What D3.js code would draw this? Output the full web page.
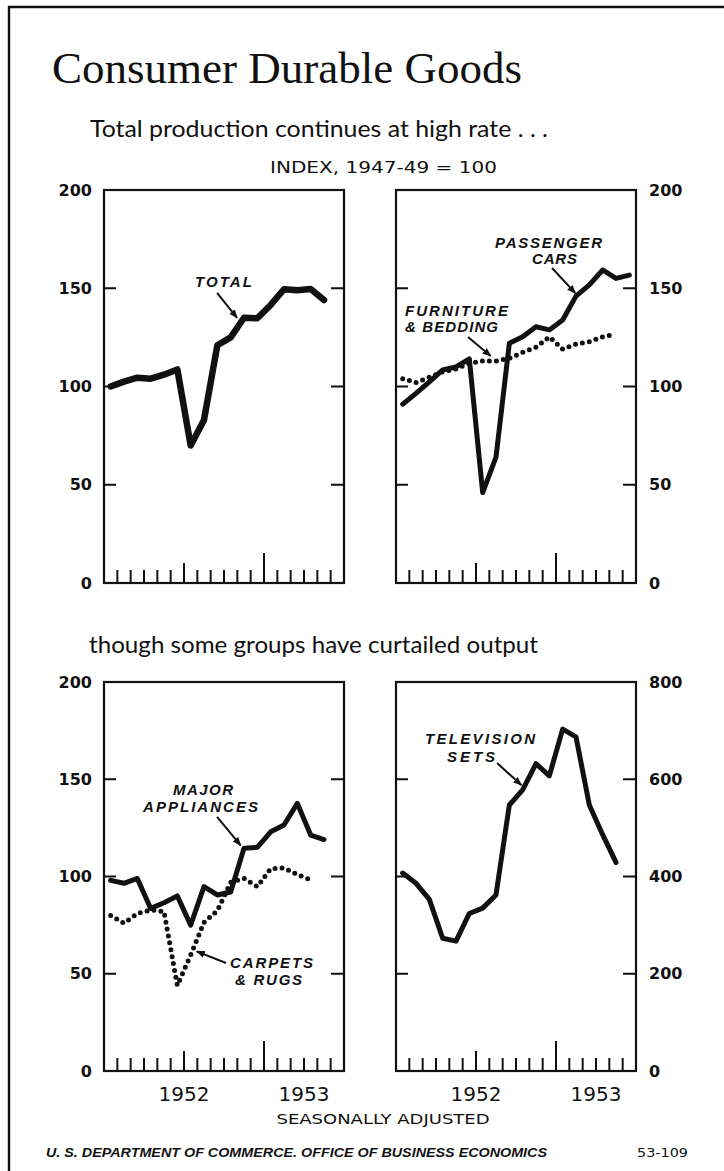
<!DOCTYPE html>
<html><head><meta charset="utf-8">
<script src="https://cdn.jsdelivr.net/npm/d3@7"></script>
<style>html,body{margin:0;padding:0;background:#fff}</style>
</head><body>
<svg id="c" width="724" height="1171"></svg>
<script>
// ---------- DATA ----------
const months = ["1952-01","1952-02","1952-03","1952-04","1952-05","1952-06","1952-07","1952-08","1952-09","1952-10","1952-11","1952-12",
                "1953-01","1953-02","1953-03","1953-04","1953-05","1953-06"];
const yearLabels = ["1952", "1953"];
const indexTicks = [0, 50, 100, 150, 200];
const tvTicks = [0, 200, 400, 600, 800];

const total      = [100, 102.5, 104.5, 104, 106, 108.7, 70, 83, 121, 125, 135, 134.7, 141.5, 149.5, 149, 149.6, 144];
const cars       = [91, 96.5, 102.4, 108.4, 110, 114, 46, 64, 122, 125.3, 130.4, 128.8, 133.8, 146, 151.7, 159.3, 155, 156.7];
const furniture  = [104, 102, 104.7, 107.5, 109, 111.8, 113, 113, 114.3, 117.4, 120, 125.3, 119, 121.6, 122.8, 125.3, 126.7];
const appliances = [98, 96.5, 99, 83.6, 86.5, 90, 75, 94.8, 90.5, 92, 114.5, 115, 123, 126.5, 137.6, 121.3, 119];
const carpets    = [80, 76, 81, 82.8, 82, 44, 59.6, 76.4, 82.4, 97, 99, 94.8, 104, 104.4, 101, 98.2];
const tvSets     = [407, 386, 353, 273, 267, 324, 335, 362, 547, 578, 632, 607, 703, 687, 547, 486, 429];

// ---------- DRAW ----------
const svg = d3.select("#c");
const SANS = "'DejaVu Sans', sans-serif";
const ITAL = "'Liberation Sans', Arial, sans-serif";

// outer frame (left + top)
svg.append("path").attr("d", "M9,1171 L9,7 L724,7").attr("fill", "none").attr("stroke", "#111").attr("stroke-width", 2.4);

// headings
svg.append("text").attr("x", 52).attr("y", 83).text("Consumer Durable Goods")
  .attr("font-family", "'Liberation Serif', 'DejaVu Serif', serif").attr("font-size", 45)
  .attr("textLength", 470).attr("lengthAdjust", "spacingAndGlyphs").attr("fill", "#111");
svg.append("text").attr("x", 90).attr("y", 137).text("Total production continues at high rate . . .")
  .attr("font-family", "Lato, 'Open Sans', sans-serif").attr("font-size", 24)
  .attr("textLength", 458).attr("lengthAdjust", "spacingAndGlyphs").attr("fill", "#111");
svg.append("text").attr("x", 270).attr("y", 173).text("INDEX, 1947-49 = 100")
  .attr("font-family", SANS).attr("font-size", 15)
  .attr("textLength", 227).attr("lengthAdjust", "spacingAndGlyphs").attr("fill", "#111");
svg.append("text").attr("x", 89).attr("y", 653).text("though some groups have curtailed output")
  .attr("font-family", "Lato, 'Open Sans', sans-serif").attr("font-size", 24)
  .attr("textLength", 449).attr("lengthAdjust", "spacingAndGlyphs").attr("fill", "#111");
svg.append("text").attr("x", 383).attr("y", 1124).attr("text-anchor", "middle").text("SEASONALLY ADJUSTED")
  .attr("font-family", SANS).attr("font-size", 14)
  .attr("textLength", 213).attr("lengthAdjust", "spacingAndGlyphs").attr("fill", "#111");
svg.append("text").attr("x", 46).attr("y", 1157).text("U. S. DEPARTMENT OF COMMERCE. OFFICE OF BUSINESS ECONOMICS")
  .attr("font-family", ITAL).attr("font-weight", "bold").attr("font-style", "italic").attr("font-size", 12)
  .attr("textLength", 501).attr("lengthAdjust", "spacingAndGlyphs").attr("fill", "#111");
svg.append("text").attr("x", 637).attr("y", 1157).text("53-109")
  .attr("font-family", SANS).attr("font-size", 12)
  .attr("textLength", 51).attr("lengthAdjust", "spacingAndGlyphs").attr("fill", "#111");

const panels = [
  { x0: 104, x1: 344, yTop: 190, yBot: 583, max: 200, ticks: indexTicks, side: "left", years: false,
    series: [{ v: total, w: 6.5, dotted: false }],
    notes: [
      { lines: [{ t: "TOTAL", m: 8.96, v: 150.6, len: 57, anchor: "middle" }], arrow: [8.48, 147.6, 9.98, 134.9] }
    ] },
  { x0: 396, x1: 636, yTop: 190, yBot: 583, max: 200, ticks: indexTicks, side: "right", years: false,
    series: [{ v: furniture, w: 5, dotted: true }, { v: cars, w: 5, dotted: false }],
    notes: [
      { lines: [{ t: "PASSENGER", m: 11.44, v: 170.5, len: 107, anchor: "middle" },
                { t: "CARS", m: 11.89, v: 162.3, len: 45, anchor: "middle" }], arrow: [11.7, 160.3, 13.45, 147.5] },
      { lines: [{ t: "FURNITURE", m: 0.675, v: 135.9, len: 103, anchor: "start" },
                { t: "& BEDDING", m: 0.675, v: 127.7, len: 93, anchor: "start" }], arrow: [5.4, 125.2, 7.1, 115.5] }
    ] },
  { x0: 104, x1: 344, yTop: 682, yBot: 1071, max: 200, ticks: indexTicks, side: "left", years: true,
    series: [{ v: carpets, w: 5, dotted: true }, { v: appliances, w: 5, dotted: false }],
    notes: [
      { lines: [{ t: "MAJOR", m: 7.43, v: 141.9, len: 60, anchor: "middle" },
                { t: "APPLIANCES", m: 7.24, v: 133.2, len: 115, anchor: "middle" }], arrow: [8.48, 130.6, 10.25, 116] },
      { lines: [{ t: "CARPETS", m: 9.45, v: 53, len: 83, anchor: "start" },
                { t: "& RUGS", m: 9.83, v: 44.2, len: 67, anchor: "start" }], arrow: [9.15, 55.5, 6.95, 61.5] }
    ] },
  { x0: 396, x1: 636, yTop: 682, yBot: 1071, max: 800, ticks: tvTicks, side: "right", years: true,
    series: [{ v: tvSets, w: 5, dotted: false }],
    notes: [
      { lines: [{ t: "TELEVISION", m: 6.3, v: 672.5, len: 110, anchor: "middle" },
                { t: "SETS", m: 5.63, v: 635.5, len: 48, anchor: "middle" }], arrow: [7.58, 633.4, 9.4, 588] }
    ] }
];

const defs = svg.append("defs");
defs.append("marker").attr("id", "ah").attr("viewBox", "0 0 10 10").attr("refX", 9).attr("refY", 5)
  .attr("markerWidth", 9).attr("markerHeight", 9).attr("markerUnits", "userSpaceOnUse").attr("orient", "auto")
  .append("path").attr("d", "M0,1 L10,5 L0,9 Z").attr("fill", "#111");

panels.forEach(p => {
  const x = d3.scaleLinear().domain([0, months.length]).range([p.x0, p.x1]);
  const y = d3.scaleLinear().domain([0, p.max]).range([p.yBot, p.yTop]);
  const g = svg.append("g");

  // frame
  g.append("rect").attr("x", p.x0).attr("y", p.yTop).attr("width", p.x1 - p.x0).attr("height", p.yBot - p.yTop)
    .attr("fill", "none").attr("stroke", "#111").attr("stroke-width", 2.2);

  // inner y ticks on both sides
  const inner = p.ticks.slice(1, -1);
  g.selectAll(".yt").data(inner).join("path")
    .attr("d", d => `M${p.x0},${y(d)}h12M${p.x1},${y(d)}h-13`)
    .attr("stroke", "#111").attr("stroke-width", 2.2);

  // x ticks (month boundaries)
  const bounds = d3.range(1, months.length);
  g.selectAll(".xt").data(bounds).join("line")
    .attr("x1", d => x(d)).attr("x2", d => x(d))
    .attr("y1", p.yBot).attr("y2", d => p.yBot - (d === 12 ? 30 : d === 6 ? 20 : 13))
    .attr("stroke", "#111").attr("stroke-width", 2);

  // y axis labels
  const axis = (p.side === "left" ? d3.axisLeft(y) : d3.axisRight(y))
    .tickValues(p.ticks).tickSize(0).tickPadding(p.side === "left" ? 12 : 13).tickFormat(d3.format("d"));
  const ag = g.append("g").attr("transform", `translate(${p.side === "left" ? p.x0 : p.x1},0)`).call(axis);
  ag.select(".domain").remove();
  ag.selectAll("text").attr("font-family", SANS).attr("font-weight", "bold").attr("font-size", 16).attr("fill", "#111");

  // year labels
  if (p.years) {
    g.selectAll(".yr").data(yearLabels).join("text")
      .attr("x", (d, i) => i === 0 ? x(6) : x(15)).attr("y", p.yBot + 30)
      .attr("text-anchor", "middle").text(d => d)
      .attr("font-family", SANS).attr("font-size", 20).attr("fill", "#111");
  }

  // series
  const line = d3.line().x((d, i) => x(i + 0.5)).y(d => y(d));
  p.series.forEach(s => {
    const path = g.append("path").datum(s.v).attr("d", line)
      .attr("fill", "none").attr("stroke", "#111").attr("stroke-width", s.w)
      .attr("stroke-linejoin", "round").attr("stroke-linecap", "round");
    if (s.dotted) path.attr("stroke-dasharray", "0 7");
  });

  // annotations
  p.notes.forEach(n => {
    n.lines.forEach(l => {
      g.append("text").attr("x", x(l.m)).attr("y", y(l.v)).attr("text-anchor", l.anchor).text(l.t)
        .attr("font-family", ITAL).attr("font-weight", "bold").attr("font-style", "italic").attr("font-size", 15)
        .attr("textLength", l.len).attr("lengthAdjust", "spacing").attr("fill", "#111");
    });
    const a = n.arrow;
    g.append("line").attr("x1", x(a[0])).attr("y1", y(a[1])).attr("x2", x(a[2])).attr("y2", y(a[3]))
      .attr("stroke", "#111").attr("stroke-width", 2).attr("marker-end", "url(#ah)");
  });
});
</script>
</body></html>
